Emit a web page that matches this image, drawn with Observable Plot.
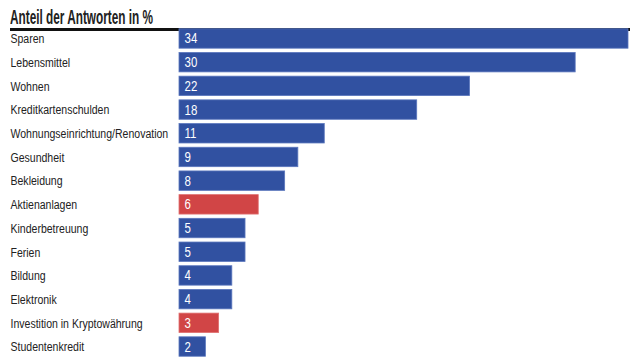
<!DOCTYPE html>
<html><head><meta charset="utf-8">
<script src="https://cdn.jsdelivr.net/npm/d3@7"></script>
<script src="https://cdn.jsdelivr.net/npm/@observablehq/plot@0.6"></script>
<style>
html,body{margin:0;padding:0;background:#fff;width:640px;height:360px;overflow:hidden;}
#title{font-family:"Liberation Sans",Arial,sans-serif;font-weight:bold;font-size:20px;color:#222;
margin:0 10px;padding-top:7px;height:21px;line-height:21px;border-bottom:3px solid #111;white-space:nowrap;}
#title span{display:inline-block;transform-origin:0 50%;}
#chart svg{display:block;overflow:visible;}
</style></head>
<body>
<div id="title"><span>Anteil der Antworten in %</span></div>
<div id="chart"></div>
<script>
const categories = ["Sparen","Lebensmittel","Wohnen","Kreditkartenschulden","Wohnungseinrichtung/Renovation","Gesundheit","Bekleidung","Aktienanlagen","Kinderbetreuung","Ferien","Bildung","Elektronik","Investition in Kryptowährung","Studentenkredit"];
const values = [34,30,22,18,11,9,8,6,5,5,4,4,3,2];
const highlighted = ["Aktienanlagen","Investition in Kryptowährung"];
const data = categories.map((c,i)=>({cat:c, value:values[i], hi: highlighted.includes(c)}));
const font = '"Liberation Sans",Arial,sans-serif';
const chart = Plot.plot({
  width: 640, height: 329,
  marginLeft: 179, marginRight: 12, marginTop: 0, marginBottom: 0,
  style: {fontFamily: font, fontSize: "13px", color: "#222", background: "#fff"},
  x: {domain: [0, 34], axis: null},
  y: {domain: categories, range: [-6.5, 329.5], padding: 0.18, round: false, label: null, axis: null},
  marks: [
    Plot.barX(data, {y: "cat", x: "value", fill: d => d.hi ? "#d14546" : "#3151a1", stroke: d => d.hi ? "#e07070" : "#5b77bd", strokeWidth: 0.8}),
    Plot.text(data, {y: "cat", frameAnchor: "left", text: "cat", textAnchor: "start", dx: -169, fill: "#222", fontSize: 13.5, className: "lbl"}),
    Plot.text(data, {y: "cat", x: 0, text: d => String(d.value), textAnchor: "start", dx: 5, fill: "white", fontSize: 14, className: "val"})
  ]
});
document.getElementById("chart").appendChild(chart);
function condense(sel, s) {
  chart.querySelectorAll(sel + " text").forEach(t => {
    const b = t.getBBox();
    const prev = t.getAttribute("transform") || "";
    t.setAttribute("transform", (prev + ` translate(${b.x*(1-s)},0) scale(${s},1)`).trim());
  });
}
condense(".lbl", 0.78);
condense(".val", 0.82);
const sp = document.querySelector("#title span");
sp.style.transform = `scaleX(${143 / sp.getBoundingClientRect().width})`;
</script>
</body></html>
